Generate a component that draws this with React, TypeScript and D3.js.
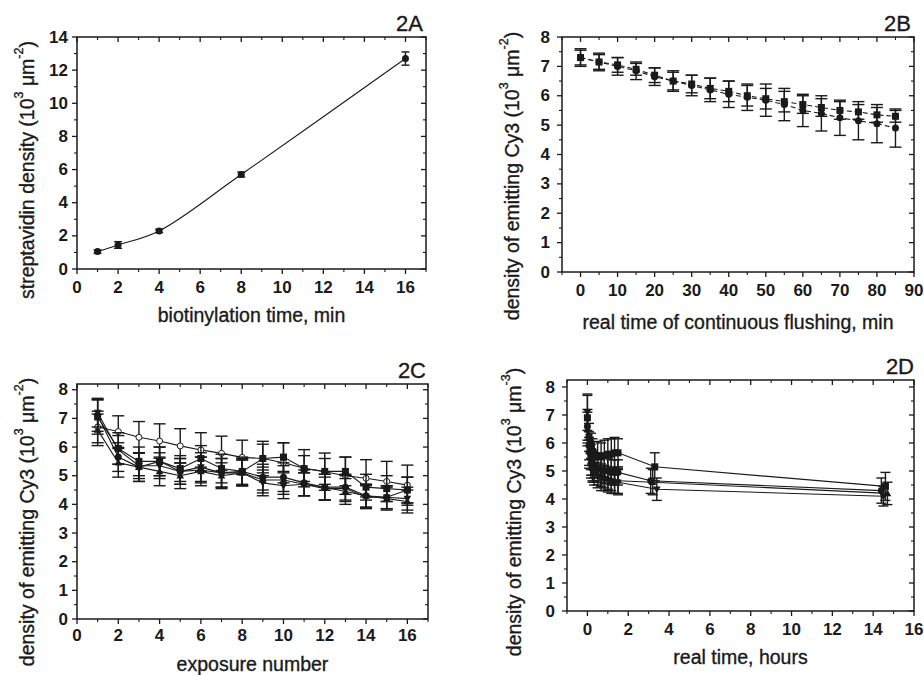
import React from "react";
import * as d3 from "d3";

// ---------- DATA ----------
// Panel 2A
const aTime = [1, 2, 4, 8, 16];
const aDensity = [1.05, 1.45, 2.3, 5.7, 12.7];
const aErr = [0.1, 0.2, 0.1, 0.15, 0.4];

// Panel 2B
const bTime = [0, 5, 10, 15, 20, 25, 30, 35, 40, 45, 50, 55, 60, 65, 70, 75, 80, 85];
const bCircle = [7.3, 7.15, 7.0, 6.85, 6.65, 6.5, 6.35, 6.2, 6.05, 5.95, 5.85, 5.7, 5.5, 5.4, 5.25, 5.15, 5.05, 4.9];
const bCircleErr = [0.3, 0.3, 0.3, 0.3, 0.3, 0.35, 0.35, 0.4, 0.45, 0.45, 0.55, 0.55, 0.55, 0.6, 0.6, 0.65, 0.65, 0.65];
const bSquare = [7.3, 7.15, 7.05, 6.9, 6.7, 6.5, 6.4, 6.25, 6.15, 6.0, 5.9, 5.8, 5.7, 5.6, 5.5, 5.45, 5.35, 5.3];
const bSquareErr = [0.25, 0.25, 0.25, 0.2, 0.25, 0.3, 0.3, 0.35, 0.35, 0.35, 0.35, 0.35, 0.3, 0.3, 0.3, 0.25, 0.25, 0.2];

// Panel 2C
const cExposure = [1, 2, 3, 4, 5, 6, 7, 8, 9, 10, 11, 12, 13, 14, 15, 16];
const cOpenCircle = [6.7, 6.54, 6.34, 6.21, 6.04, 5.9, 5.78, 5.64, 5.6, 5.45, 5.26, 5.14, 5.0, 4.91, 4.8, 4.67];
const cOpenCircleErr = [0.55, 0.55, 0.55, 0.6, 0.6, 0.6, 0.6, 0.6, 0.6, 0.7, 0.65, 0.65, 0.65, 0.65, 0.7, 0.7];
const cSquare = [7.05, 5.95, 5.5, 5.5, 5.25, 5.6, 5.25, 5.15, 5.6, 5.65, 5.25, 5.15, 5.15, 4.6, 4.55, 4.5];
const cSquareErr = [0.6, 0.55, 0.5, 0.5, 0.45, 0.45, 0.5, 0.5, 0.5, 0.5, 0.45, 0.45, 0.5, 0.45, 0.45, 0.45];
const cCircle = [7.1, 5.65, 5.3, 5.5, 5.15, 5.2, 5.1, 5.15, 4.95, 4.95, 4.75, 4.6, 4.6, 4.3, 4.25, 4.5];
const cCircleErr = [0.55, 0.5, 0.5, 0.5, 0.45, 0.45, 0.5, 0.45, 0.45, 0.5, 0.45, 0.45, 0.45, 0.4, 0.4, 0.45];
const cTriangle = [6.6, 5.45, 5.3, 5.15, 5.0, 5.15, 5.0, 5.1, 4.85, 4.85, 4.7, 4.6, 4.45, 4.3, 4.2, 4.1];
const cTriangleErr = [0.55, 0.5, 0.5, 0.5, 0.45, 0.5, 0.45, 0.45, 0.45, 0.5, 0.4, 0.45, 0.45, 0.4, 0.4, 0.4];
const cDownTriangle = [7.2, 5.9, 5.35, 5.35, 5.15, 5.3, 5.1, 5.1, 4.75, 4.65, 4.7, 4.55, 4.55, 4.25, 4.25, 4.2];
const cDownTriangleErr = [0.5, 0.5, 0.45, 0.45, 0.45, 0.5, 0.5, 0.45, 0.45, 0.45, 0.4, 0.4, 0.45, 0.4, 0.4, 0.4];

// Panel 2D
const dTimeSquare = [0, 0.08, 0.17, 0.25, 0.33, 0.5, 0.67, 0.83, 1.0, 1.17, 1.33, 1.5, 3.3, 14.6];
const dSquare = [6.9, 6.2, 5.9, 5.7, 5.6, 5.55, 5.5, 5.55, 5.6, 5.6, 5.65, 5.65, 5.15, 4.45];
const dSquareErr = [0.8, 0.5, 0.45, 0.45, 0.45, 0.5, 0.5, 0.55, 0.55, 0.55, 0.55, 0.5, 0.5, 0.5];
const dTimeCircle = [0, 0.08, 0.17, 0.25, 0.33, 0.5, 0.67, 0.83, 1.0, 1.17, 1.33, 1.5, 3.1, 14.4];
const dCircle = [6.6, 5.9, 5.5, 5.3, 5.2, 5.1, 5.05, 5.0, 5.0, 4.95, 4.95, 4.95, 4.65, 4.3];
const dCircleErr = [0.6, 0.5, 0.45, 0.45, 0.45, 0.45, 0.45, 0.45, 0.45, 0.45, 0.45, 0.45, 0.45, 0.45];
const dTimeTriangle = [0, 0.08, 0.17, 0.25, 0.33, 0.5, 0.67, 0.83, 1.0, 1.17, 1.33, 1.5, 3.2, 14.7];
const dTriangle = [6.5, 5.7, 5.3, 5.1, 5.0, 4.9, 4.85, 4.8, 4.75, 4.7, 4.65, 4.65, 4.6, 4.2];
const dTriangleErr = [0.6, 0.5, 0.45, 0.45, 0.4, 0.4, 0.4, 0.4, 0.4, 0.4, 0.45, 0.45, 0.45, 0.4];
const dTimeDown = [0, 0.08, 0.17, 0.25, 0.33, 0.5, 0.67, 0.83, 1.0, 1.17, 1.33, 1.5, 3.4, 14.5];
const dDown = [7.1, 5.6, 5.2, 5.0, 4.9, 4.8, 4.7, 4.7, 4.65, 4.6, 4.6, 4.6, 4.35, 4.1];
const dDownErr = [0.65, 0.5, 0.45, 0.4, 0.4, 0.4, 0.4, 0.4, 0.4, 0.4, 0.4, 0.45, 0.4, 0.35];

// tick labels
const aXTicks = [0, 2, 4, 6, 8, 10, 12, 14, 16];
const aYTicks = [0, 2, 4, 6, 8, 10, 12, 14];
const bXTicks = [0, 10, 20, 30, 40, 50, 60, 70, 80, 90];
const bYTicks = [0, 1, 2, 3, 4, 5, 6, 7, 8];
const cXTicks = [0, 2, 4, 6, 8, 10, 12, 14, 16];
const cYTicks = [0, 1, 2, 3, 4, 5, 6, 7, 8];
const dXTicks = [0, 2, 4, 6, 8, 10, 12, 14, 16];
const dYTicks = [0, 1, 2, 3, 4, 5, 6, 7, 8];

// ---------- DRAWING ----------
const INK = "#1a1a1a";
const FONT = "'Liberation Sans', Arial, sans-serif";

type Series = {
  x: number[];
  y: number[];
  err: number[];
  marker: "circle" | "square" | "up" | "down" | "opencircle";
  dash?: string;
  curve?: boolean;
  cap?: number;
  size?: number;
};

function Marker({ kind, cx, cy, s }: { kind: string; cx: number; cy: number; s: number }) {
  if (kind === "circle") return <circle cx={cx} cy={cy} r={s} fill={INK} />;
  if (kind === "opencircle") return <circle cx={cx} cy={cy} r={s} fill="#fff" stroke={INK} strokeWidth={1} />;
  if (kind === "square") return <rect x={cx - s} y={cy - s} width={2 * s} height={2 * s} fill={INK} />;
  if (kind === "up")
    return <path d={`M${cx},${cy - s * 1.15}L${cx + s * 1.1},${cy + s * 0.8}L${cx - s * 1.1},${cy + s * 0.8}Z`} fill={INK} />;
  return <path d={`M${cx},${cy + s * 1.15}L${cx + s * 1.1},${cy - s * 0.8}L${cx - s * 1.1},${cy - s * 0.8}Z`} fill={INK} />;
}

type PanelProps = {
  left: number; right: number; top: number; bottom: number;
  xDomain: [number, number]; yDomain: [number, number];
  xTicks: number[]; yTicks: number[]; xMinor: number; yMinor: number;
  xLabel: string; xLabelY: number; yLabelMain: string; yLabelSup2: string; yLabelX: number; yLabelY: number;
  title: string; titleX: number; titleY: number;
  yTickGap: number; xTickDy: number;
  series: Series[];
};

const titleStyle = { stroke: INK, strokeWidth: 0.35 };

function Panel(p: PanelProps) {
  const x = d3.scaleLinear().domain(p.xDomain).range([p.left, p.right]);
  const y = d3.scaleLinear().domain(p.yDomain).range([p.bottom, p.top]);
  const xMinorVals = d3.range(Math.ceil(p.xDomain[0] / p.xMinor) * p.xMinor, p.xDomain[1] + 1e-9, p.xMinor)
    .filter((v) => !p.xTicks.some((t) => Math.abs(t - v) < 1e-9));
  const yMinorVals = d3.range(Math.ceil(p.yDomain[0] / p.yMinor) * p.yMinor, p.yDomain[1] + 1e-9, p.yMinor)
    .filter((v) => !p.yTicks.some((t) => Math.abs(t - v) < 1e-9));
  const maj = 5, mn = 3;
  return (
    <g>
      {p.series.map((s, si) => {
        const pts = s.x.map((xv, i) => [x(xv), y(s.y[i])] as [number, number]);
        const line = d3.line().curve(s.curve ? d3.curveCatmullRom : d3.curveLinear)(pts) || "";
        const cap = s.cap ?? 5;
        const sz = s.size ?? 3.5;
        return (
          <g key={si}>
            <path d={line} fill="none" stroke={INK} strokeWidth={1.1} strokeDasharray={s.dash} />
            {s.x.map((xv, i) => {
              const cx = x(xv);
              const y1 = y(s.y[i] + s.err[i]);
              const y2 = y(s.y[i] - s.err[i]);
              return (
                <g key={i} stroke={INK} strokeWidth={1.4}>
                  <line x1={cx} x2={cx} y1={y1} y2={y2} />
                  <line x1={cx - cap} x2={cx + cap} y1={y1} y2={y1} />
                  <line x1={cx - cap} x2={cx + cap} y1={y2} y2={y2} />
                </g>
              );
            })}
            {s.x.map((xv, i) => (
              <Marker key={"m" + i} kind={s.marker} cx={x(xv)} cy={y(s.y[i])} s={sz} />
            ))}
          </g>
        );
      })}
      {/* frame */}
      <rect x={p.left} y={p.top} width={p.right - p.left} height={p.bottom - p.top} fill="none" stroke={INK} strokeWidth={1.5} />
      {/* x ticks */}
      {p.xTicks.map((t) => (
        <g key={"xt" + t} stroke={INK} strokeWidth={1.3}>
          <line x1={x(t)} x2={x(t)} y1={p.bottom} y2={p.bottom + maj} />
          <line x1={x(t)} x2={x(t)} y1={p.top} y2={p.top + maj} />
        </g>
      ))}
      {xMinorVals.map((t) => (
        <g key={"xm" + t} stroke={INK} strokeWidth={1.1}>
          <line x1={x(t)} x2={x(t)} y1={p.bottom} y2={p.bottom + mn} />
          <line x1={x(t)} x2={x(t)} y1={p.top} y2={p.top + mn} />
        </g>
      ))}
      {p.yTicks.map((t) => (
        <g key={"yt" + t} stroke={INK} strokeWidth={1.3}>
          <line x1={p.left - maj} x2={p.left} y1={y(t)} y2={y(t)} />
          <line x1={p.right - maj} x2={p.right} y1={y(t)} y2={y(t)} />
        </g>
      ))}
      {yMinorVals.map((t) => (
        <g key={"ym" + t} stroke={INK} strokeWidth={1.1}>
          <line x1={p.left - mn} x2={p.left} y1={y(t)} y2={y(t)} />
          <line x1={p.right - mn} x2={p.right} y1={y(t)} y2={y(t)} />
        </g>
      ))}
      {/* tick labels */}
      {p.xTicks.map((t) => (
        <text key={"xl" + t} x={x(t)} y={p.bottom + p.xTickDy} textAnchor="middle" dominantBaseline="central"
          fontFamily={FONT} fontWeight="bold" fontSize={17} fill={INK}>{t}</text>
      ))}
      {p.yTicks.map((t) => (
        <text key={"yl" + t} x={p.left - p.yTickGap} y={y(t)} textAnchor="end" dominantBaseline="central"
          fontFamily={FONT} fontWeight="bold" fontSize={17} fill={INK}>{t}</text>
      ))}
      {/* axis titles */}
      <text x={(p.left + p.right) / 2} y={p.xLabelY} textAnchor="middle" dominantBaseline="central"
        fontFamily={FONT} fontSize={19.5} fill={INK} style={titleStyle}>{p.xLabel}</text>
      <text transform={`translate(${p.yLabelX},${p.yLabelY}) rotate(-90)`} textAnchor="middle" dominantBaseline="central"
        fontFamily={FONT} fontSize={19.5} fill={INK} style={titleStyle}>
        {p.yLabelMain}
        <tspan>(10</tspan>
        <tspan dy={-8} fontSize={12.5}>3</tspan>
        <tspan dy={8}> μm</tspan>
        <tspan dy={-8} fontSize={12.5}>{p.yLabelSup2}</tspan>
        <tspan dy={8}>)</tspan>
      </text>
      <text x={p.titleX} y={p.titleY} textAnchor="end" fontFamily={FONT} fontSize={22} fill={INK} style={titleStyle}>{p.title}</text>
    </g>
  );
}

export default function App() {
  return (
    <svg width={924} height={675} style={{ position: "absolute", left: 0, top: 0, background: "#fff" }}>
      <rect width={924} height={675} fill="#fff" />
      <Panel
        left={77} right={426} top={37} bottom={269}
        xDomain={[0, 17]} yDomain={[0, 14]} xTicks={aXTicks} yTicks={aYTicks} xMinor={1} yMinor={1}
        xLabel="biotinylation time, min" xLabelY={315}
        yLabelMain="streptavidin density " yLabelSup2="-2" yLabelX={27} yLabelY={170}
        title="2A" titleX={423} titleY={31} yTickGap={9} xTickDy={18}
        series={[{ x: aTime, y: aDensity, err: aErr, marker: "circle", curve: true, cap: 4 }]}
      />
      <Panel
        left={562} right={914} top={37} bottom={272}
        xDomain={[-5, 90]} yDomain={[0, 8]} xTicks={bXTicks} yTicks={bYTicks} xMinor={5} yMinor={0.5}
        xLabel="real time of continuous flushing, min" xLabelY={322}
        yLabelMain="density of emitting Cy3 " yLabelSup2="-2" yLabelX={512} yLabelY={176}
        title="2B" titleX={911} titleY={31} yTickGap={12} xTickDy={18}
        series={[
          { x: bTime, y: bSquare, err: bSquareErr, marker: "square", dash: "5,3", cap: 6 },
          { x: bTime, y: bCircle, err: bCircleErr, marker: "circle", dash: "5,3", cap: 6 },
        ]}
      />
      <Panel
        left={77} right={428} top={384} bottom={619}
        xDomain={[0, 17]} yDomain={[0, 8.2]} xTicks={cXTicks} yTicks={cYTicks} xMinor={1} yMinor={0.5}
        xLabel="exposure number" xLabelY={664}
        yLabelMain="density of emitting Cy3 " yLabelSup2="-2" yLabelX={27} yLabelY={522}
        title="2C" titleX={426} titleY={378} yTickGap={9} xTickDy={16}
        series={[
          { x: cExposure, y: cOpenCircle, err: cOpenCircleErr, marker: "opencircle", cap: 6, size: 3 },
          { x: cExposure, y: cSquare, err: cSquareErr, marker: "square", cap: 6 },
          { x: cExposure, y: cCircle, err: cCircleErr, marker: "circle", cap: 6 },
          { x: cExposure, y: cTriangle, err: cTriangleErr, marker: "up", cap: 6 },
          { x: cExposure, y: cDownTriangle, err: cDownTriangleErr, marker: "down", cap: 6 },
        ]}
      />
      <Panel
        left={567} right={914} top={380} bottom={611}
        xDomain={[-1, 16]} yDomain={[0, 8.25]} xTicks={dXTicks} yTicks={dYTicks} xMinor={1} yMinor={0.5}
        xLabel="real time, hours" xLabelY={657}
        yLabelMain="density of emitting Cy3 " yLabelSup2="-3" yLabelX={514} yLabelY={512}
        title="2D" titleX={914} titleY={374} yTickGap={12} xTickDy={18}
        series={[
          { x: dTimeSquare, y: dSquare, err: dSquareErr, marker: "square", cap: 5 },
          { x: dTimeCircle, y: dCircle, err: dCircleErr, marker: "circle", cap: 5 },
          { x: dTimeTriangle, y: dTriangle, err: dTriangleErr, marker: "up", cap: 5 },
          { x: dTimeDown, y: dDown, err: dDownErr, marker: "down", cap: 5 },
        ]}
      />
    </svg>
  );
}
